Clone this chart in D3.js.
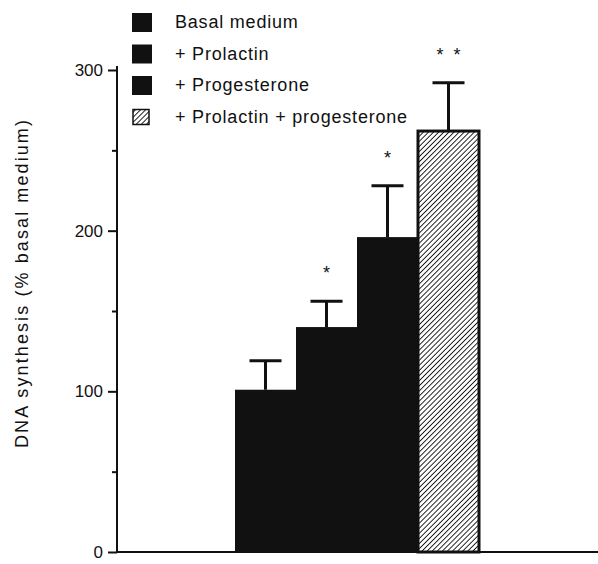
<!DOCTYPE html>
<html>
<head>
<meta charset="utf-8">
<script src="https://cdn.jsdelivr.net/npm/d3@7"></script>
<style>
  body { margin: 0; background: #fff; }
  text { font-family: "Liberation Sans", Arial, sans-serif; fill: #111; }
</style>
</head>
<body>
<script>
// data
var groups = ["Basal medium", "+ Prolactin", "+ Progesterone", "+ Prolactin + progesterone"];
var means = [101, 140, 196, 262];
var errTop = [119, 156, 228, 292];
var stars = ["", "*", "*", "*  *"];
var majorTicks = [0, 100, 200, 300];
var minorTicks = [50, 150, 250];

var width = 598, height = 564;

var svg = d3.select("body").append("svg")
    .attr("width", width)
    .attr("height", height);

// hatch for the combined treatment
var defs = svg.append("defs");
defs.append("pattern")
    .attr("id", "hatch")
    .attr("patternUnits", "userSpaceOnUse")
    .attr("width", 3.6).attr("height", 3.6)
    .attr("patternTransform", "rotate(45)")
  .append("line")
    .attr("x1", 0).attr("y1", 0).attr("x2", 0).attr("y2", 3.6)
    .attr("stroke", "#111").attr("stroke-width", 1.8);

var y = d3.scaleLinear().domain([0, 300]).range([552, 70]);
var x = d3.scaleBand().domain(groups).range([235, 479]).padding(0);

function fillFor(i) { return i === 3 ? "url(#hatch)" : "#111"; }

// bars
svg.selectAll(".bar")
    .data(groups)
    .enter().append("rect")
    .attr("class", "bar")
    .attr("x", function(d) { return x(d); })
    .attr("y", function(d, i) { return y(means[i]); })
    .attr("width", x.bandwidth())
    .attr("height", function(d, i) { return y(0) - y(means[i]); })
    .attr("fill", function(d, i) { return fillFor(i); })
    .attr("stroke", "#111")
    .attr("stroke-width", function(d, i) { return i === 3 ? 3 : 0; });

// error bars (upper only)
var eb = svg.selectAll(".err")
    .data(groups)
    .enter().append("g")
    .attr("class", "err")
    .attr("stroke", "#111")
    .attr("stroke-width", 3);
eb.append("line")
    .attr("x1", function(d) { return x(d) + x.bandwidth() / 2; })
    .attr("x2", function(d) { return x(d) + x.bandwidth() / 2; })
    .attr("y1", function(d, i) { return y(means[i]); })
    .attr("y2", function(d, i) { return y(errTop[i]); });
eb.append("line")
    .attr("x1", function(d) { return x(d) + x.bandwidth() / 2 - 16; })
    .attr("x2", function(d) { return x(d) + x.bandwidth() / 2 + 16; })
    .attr("y1", function(d, i) { return y(errTop[i]); })
    .attr("y2", function(d, i) { return y(errTop[i]); });

// significance marks
svg.selectAll(".star")
    .data(groups)
    .enter().append("text")
    .attr("class", "star")
    .attr("x", function(d) { return x(d) + x.bandwidth() / 2; })
    .attr("y", function(d, i) { return y(errTop[i]) - 22; })
    .attr("text-anchor", "middle")
    .style("font-size", "18px")
    .style("white-space", "pre")
    .attr("xml:space", "preserve")
    .text(function(d, i) { return stars[i]; });

// y axis
var yAxis = svg.append("g")
    .attr("transform", "translate(117,0)")
    .call(d3.axisLeft(y).tickValues(majorTicks).tickSize(9).tickPadding(5).tickFormat(d3.format("d")));
yAxis.select(".domain").attr("stroke", "#111").attr("stroke-width", 2).attr("d", "M0," + (y(300) - 4) + "V" + y(0));
yAxis.selectAll(".tick line").attr("stroke", "#111").attr("stroke-width", 2);
yAxis.selectAll(".tick text").style("font-size", "17px").attr("fill", "#111");

var yMinor = svg.append("g")
    .attr("transform", "translate(117,0)")
    .call(d3.axisLeft(y).tickValues(minorTicks).tickSize(5).tickFormat(""));
yMinor.select(".domain").remove();
yMinor.selectAll(".tick line").attr("stroke", "#111").attr("stroke-width", 2);

// x axis baseline
svg.append("line")
    .attr("x1", 116).attr("x2", 598)
    .attr("y1", y(0)).attr("y2", y(0))
    .attr("stroke", "#111").attr("stroke-width", 2);

// y axis title
svg.append("text")
    .attr("transform", "translate(28,283) rotate(-90)")
    .attr("text-anchor", "middle")
    .style("font-size", "18px")
    .style("letter-spacing", "2.1px")
    .text("DNA synthesis (% basal medium)");

// legend
var legend = svg.selectAll(".legend")
    .data(groups)
    .enter().append("g")
    .attr("class", "legend")
    .attr("transform", function(d, i) { return "translate(132," + (13 + i * 31.5) + ")"; });
legend.append("rect")
    .attr("x", function(d, i) { return i === 3 ? 1 : 0; })
    .attr("y", function(d, i) { return i === 3 ? 2 : 0; })
    .attr("width", function(d, i) { return i === 3 ? 16 : 20; })
    .attr("height", function(d, i) { return i === 3 ? 15 : 19; })
    .attr("fill", function(d, i) { return fillFor(i); })
    .attr("stroke", "#111")
    .attr("stroke-width", function(d, i) { return i === 3 ? 1.5 : 0; });
legend.append("text")
    .attr("x", 43)
    .attr("y", 15)
    .style("font-size", "18px")
    .style("letter-spacing", "0.8px")
    .text(function(d) { return d; });
</script>
</body>
</html>
